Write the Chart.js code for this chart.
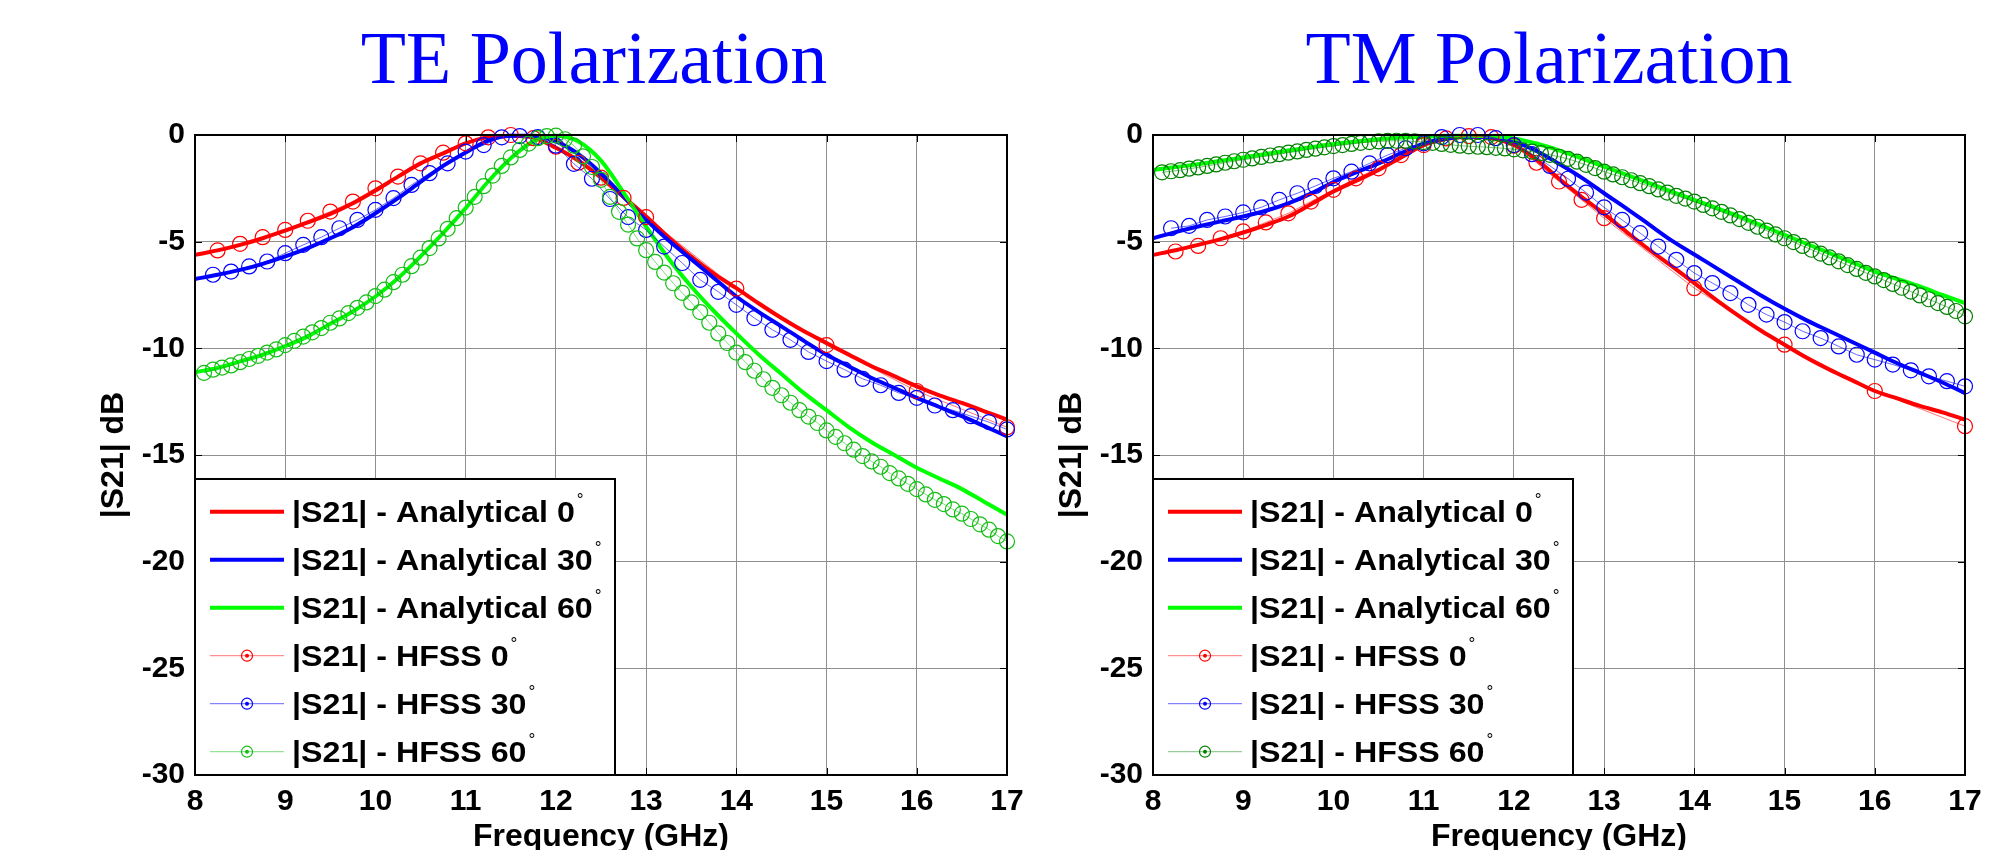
<!DOCTYPE html>
<html>
<head>
<meta charset="utf-8">
<title>|S21| TE / TM Polarization</title>
<script src="https://cdn.jsdelivr.net/npm/chart.js@4.4.1/dist/chart.umd.min.js"></script>
<style>
  html, body { margin: 0; padding: 0; background: #fff; }
  #wrap { position: relative; width: 2002px; height: 850px; overflow: hidden; background: #fff; }
  canvas { position: absolute; top: 0; }
  #te { left: 0; }
  #tm { left: 958px; }
</style>
</head>
<body>
<div id="wrap">
  <canvas id="te" width="1044" height="850"></canvas>
  <canvas id="tm" width="1044" height="850"></canvas>
</div>
<script>
// frequency grids (GHz)
const freqAnalytical = [8, 8.25, 8.5, 8.75, 9, 9.25, 9.5, 9.75, 10, 10.25, 10.5, 10.75, 11, 11.25, 11.5, 11.75,
  12, 12.25, 12.5, 12.75, 13, 13.25, 13.5, 13.75, 14, 14.25, 14.5, 14.75, 15, 15.25, 15.5, 15.75, 16, 16.25, 16.5, 16.75, 17];
const freqHfss0 = [8.25, 8.5, 8.75, 9, 9.25, 9.5, 9.75, 10, 10.25, 10.5, 10.75, 11, 11.25, 11.5, 11.75,
  12, 12.25, 12.5, 12.75, 13, 14, 15, 16, 17];
const freqHfss30 = [8.2, 8.4, 8.6, 8.8, 9, 9.2, 9.4, 9.6, 9.8, 10, 10.2, 10.4, 10.6, 10.8, 11, 11.2, 11.4, 11.6, 11.8,
  12, 12.2, 12.4, 12.6, 12.8, 13, 13.2, 13.4, 13.6, 13.8, 14, 14.2, 14.4, 14.6, 14.8, 15, 15.2, 15.4, 15.6, 15.8,
  16, 16.2, 16.4, 16.6, 16.8, 17];
const freqHfss60 = [8.1, 8.2, 8.3, 8.4, 8.5, 8.6, 8.7, 8.8, 8.9, 9, 9.1, 9.2, 9.3, 9.4, 9.5, 9.6, 9.7, 9.8, 9.9,
  10, 10.1, 10.2, 10.3, 10.4, 10.5, 10.6, 10.7, 10.8, 10.9, 11, 11.1, 11.2, 11.3, 11.4, 11.5, 11.6, 11.7, 11.8, 11.9,
  12, 12.1, 12.2, 12.3, 12.4, 12.5, 12.6, 12.7, 12.8, 12.9, 13, 13.1, 13.2, 13.3, 13.4, 13.5, 13.6, 13.7, 13.8, 13.9,
  14, 14.1, 14.2, 14.3, 14.4, 14.5, 14.6, 14.7, 14.8, 14.9, 15, 15.1, 15.2, 15.3, 15.4, 15.5, 15.6, 15.7, 15.8, 15.9,
  16, 16.1, 16.2, 16.3, 16.4, 16.5, 16.6, 16.7, 16.8, 16.9, 17];

// TE polarization, |S21| in dB
const teAnalytical0 = [-5.62, -5.41, -5.15, -4.84, -4.48, -4.10, -3.70, -3.20, -2.60, -1.95, -1.33, -0.86, -0.39, -0.10, -0.03, -0.12,
  -0.60, -1.20, -2.00, -2.90, -3.82, -4.80, -5.70, -6.50, -7.18, -7.90, -8.58, -9.20, -9.75, -10.30, -10.84, -11.30, -11.78, -12.20, -12.56, -12.95, -13.34];
const teAnalytical30 = [-6.75, -6.55, -6.32, -6.04, -5.69, -5.30, -4.84, -4.32, -3.67, -2.96, -2.20, -1.45, -0.82, -0.26, -0.04, -0.03,
  -0.30, -0.90, -1.80, -2.90, -3.98, -4.95, -5.82, -6.70, -7.57, -8.30, -8.97, -9.65, -10.30, -10.85, -11.39, -11.85, -12.32, -12.75, -13.18, -13.65, -14.12];
const teAnalytical60 = [-11.12, -10.92, -10.61, -10.30, -9.90, -9.44, -8.85, -8.27, -7.57, -6.71, -5.69, -4.60, -3.43, -2.18, -1.09, -0.30,
  -0.03, -0.30, -1.20, -2.70, -4.30, -5.80, -7.10, -8.25, -9.30, -10.30, -11.20, -12.10, -12.90, -13.70, -14.40, -15.00, -15.60, -16.10, -16.60, -17.20, -17.80];
const teHfss0 = [-5.41, -5.10, -4.79, -4.45, -4.02, -3.59, -3.12, -2.50, -1.95, -1.33, -0.83, -0.39, -0.11, 0.00, -0.15,
  -0.55, -1.30, -2.00, -2.95, -3.85, -7.20, -9.85, -12.00, -13.70];
const teHfss30 = [-6.55, -6.40, -6.16, -5.93, -5.54, -5.15, -4.79, -4.37, -3.98, -3.51, -2.96, -2.34, -1.79, -1.33, -0.78, -0.47, -0.11, -0.05, -0.10,
  -0.50, -1.35, -2.05, -3.00, -3.85, -4.45, -5.23, -6.00, -6.79, -7.35, -7.96, -8.58, -9.13, -9.60, -10.17, -10.60, -11.00, -11.43, -11.73, -12.09,
  -12.32, -12.68, -12.90, -13.18, -13.46, -13.80];
const teHfss60 = [-11.15, -11.00, -10.90, -10.80, -10.65, -10.50, -10.35, -10.20, -10.05, -9.85, -9.65, -9.45, -9.25, -9.05, -8.80, -8.60, -8.35, -8.10, -7.85,
  -7.55, -7.25, -6.90, -6.55, -6.15, -5.75, -5.30, -4.85, -4.40, -3.90, -3.40, -2.90, -2.40, -1.90, -1.45, -1.05, -0.70, -0.40, -0.15, -0.05,
  -0.03, -0.20, -0.50, -1.00, -1.50, -2.10, -2.90, -3.60, -4.20, -4.85, -5.40, -5.95, -6.45, -6.95, -7.40, -7.85, -8.30, -8.80, -9.30, -9.75,
  -10.20, -10.65, -11.05, -11.45, -11.85, -12.20, -12.55, -12.90, -13.20, -13.50, -13.85, -14.15, -14.45, -14.75, -15.05, -15.30, -15.55, -15.85, -16.10, -16.35,
  -16.60, -16.85, -17.10, -17.30, -17.55, -17.75, -18.00, -18.25, -18.50, -18.80, -19.05];

// TM polarization, |S21| in dB
const tmAnalytical0 = [-5.62, -5.40, -5.15, -4.88, -4.57, -4.22, -3.82, -3.25, -2.65, -2.15, -1.64, -1.05, -0.47, -0.19, -0.08, -0.15,
  -0.47, -1.15, -2.05, -2.90, -3.70, -4.55, -5.38, -6.15, -6.94, -7.75, -8.50, -9.20, -9.83, -10.45, -11.00, -11.50, -12.00, -12.35, -12.70, -13.00, -13.34];
const tmAnalytical30 = [-4.84, -4.55, -4.29, -4.05, -3.82, -3.55, -3.20, -2.75, -2.20, -1.75, -1.33, -0.85, -0.40, -0.16, -0.08, -0.10,
  -0.31, -0.75, -1.35, -2.00, -2.73, -3.45, -4.20, -4.95, -5.60, -6.25, -6.90, -7.55, -8.15, -8.70, -9.20, -9.70, -10.20, -10.70, -11.15, -11.60, -12.10];
const tmAnalytical60 = [-1.64, -1.50, -1.37, -1.21, -1.05, -0.89, -0.73, -0.57, -0.42, -0.30, -0.20, -0.12, -0.08, -0.04, -0.03, -0.06,
  -0.16, -0.40, -0.72, -1.10, -1.48, -1.87, -2.26, -2.65, -3.04, -3.43, -3.82, -4.25, -4.68, -5.11, -5.54, -5.97, -6.40, -6.75, -7.10, -7.50, -7.88];
const tmHfss0 = [-5.46, -5.20, -4.84, -4.52, -4.10, -3.67, -3.12, -2.57, -2.03, -1.56, -0.94, -0.47, -0.16, -0.05, -0.10,
  -0.50, -1.30, -2.18, -3.04, -3.90, -7.18, -9.83, -12.00, -13.65];
const tmHfss30 = [-4.37, -4.26, -3.98, -3.82, -3.63, -3.39, -3.04, -2.73, -2.39, -2.03, -1.72, -1.33, -0.94, -0.62, -0.39, -0.10, 0.00, 0.00, -0.15,
  -0.47, -0.90, -1.45, -2.05, -2.70, -3.39, -3.98, -4.60, -5.23, -5.85, -6.47, -6.94, -7.41, -7.96, -8.42, -8.77, -9.20, -9.52, -9.91, -10.30,
  -10.53, -10.76, -11.03, -11.31, -11.54, -11.78];
const tmHfss60 = [-1.75, -1.70, -1.65, -1.58, -1.52, -1.45, -1.38, -1.30, -1.23, -1.16, -1.10, -1.03, -0.96, -0.90, -0.83, -0.77, -0.70, -0.64, -0.58,
  -0.52, -0.47, -0.42, -0.37, -0.33, -0.30, -0.28, -0.27, -0.28, -0.30, -0.33, -0.37, -0.42, -0.46, -0.50, -0.53, -0.55, -0.57, -0.60, -0.63,
  -0.67, -0.72, -0.78, -0.85, -0.93, -1.02, -1.12, -1.25, -1.40, -1.55, -1.72, -1.85, -1.98, -2.12, -2.26, -2.40, -2.55, -2.70, -2.85, -2.98,
  -3.12, -3.28, -3.44, -3.60, -3.77, -3.94, -4.12, -4.30, -4.48, -4.66, -4.84, -5.02, -5.20, -5.38, -5.56, -5.74, -5.92, -6.10, -6.28, -6.46,
  -6.63, -6.80, -6.98, -7.16, -7.34, -7.52, -7.70, -7.88, -8.06, -8.25, -8.50];

const xTicks = { min: 8, max: 17, step: 1 };
const yTicks = { min: -30, max: 0, step: 5 };

const SANS = "'Liberation Sans', Arial, sans-serif";

function toPoints(xs, ys) {
  return xs.map((x, i) => ({ x: x, y: ys[i] }));
}

function analytical(label, xs, ys, color, order) {
  return {
    label: label, data: toPoints(xs, ys),
    borderColor: color, backgroundColor: color, borderWidth: 4,
    pointRadius: 0, cubicInterpolationMode: 'monotone', clip: false, order: order
  };
}

function hfss(label, xs, ys, color, lineColor, order) {
  return {
    label: label, data: toPoints(xs, ys),
    borderColor: lineColor, borderWidth: 1, backgroundColor: 'rgba(0,0,0,0)',
    pointRadius: 7.5, pointBorderWidth: 1.2, pointBorderColor: color,
    pointBackgroundColor: 'rgba(0,0,0,0)', clip: false, order: order
  };
}

// box round the plot, legend and panel title
const decorations = {
  id: 'decorations',
  afterDatasetsDraw(chart, args, opts) {
    const { ctx, chartArea: a } = chart;
    ctx.save();
    // small inner ticks on all sides
    ctx.strokeStyle = '#000';
    ctx.lineWidth = 1;
    const xs = chart.scales.x, ys = chart.scales.y;
    xs.ticks.forEach(t => {
      const px = Math.round(xs.getPixelForValue(t.value)) + 0.5;
      ctx.beginPath();
      ctx.moveTo(px, a.top); ctx.lineTo(px, a.top + 7);
      ctx.moveTo(px, a.bottom); ctx.lineTo(px, a.bottom - 7);
      ctx.stroke();
    });
    ys.ticks.forEach(t => {
      const py = Math.round(ys.getPixelForValue(t.value)) + 0.5;
      ctx.beginPath();
      ctx.moveTo(a.left, py); ctx.lineTo(a.left + 7, py);
      ctx.moveTo(a.right, py); ctx.lineTo(a.right - 7, py);
      ctx.stroke();
    });
    ctx.lineWidth = 2;
    ctx.strokeRect(a.left, a.top, a.right - a.left, a.bottom - a.top);

    // legend
    const left = a.left, top = a.top + 344, w = 420, h = a.bottom - top;
    ctx.fillStyle = '#fff';
    ctx.fillRect(left, top, w, h);
    ctx.strokeStyle = '#000';
    ctx.lineWidth = 2;
    ctx.strokeRect(left, top, w, h);
    chart.data.datasets.forEach((ds, i) => {
      const cy = top + 32.7 + 48 * i;
      ctx.beginPath();
      ctx.strokeStyle = ds.borderColor;
      ctx.lineWidth = ds.borderWidth;
      ctx.moveTo(left + 15, cy); ctx.lineTo(left + 89, cy);
      ctx.stroke();
      if (ds.pointRadius > 0) {
        ctx.beginPath();
        ctx.strokeStyle = ds.pointBorderColor;
        ctx.lineWidth = 1.2;
        ctx.arc(left + 52, cy, 5.5, 0, Math.PI * 2);
        ctx.stroke();
        ctx.beginPath();
        ctx.fillStyle = ds.pointBorderColor;
        ctx.arc(left + 52, cy, 2, 0, Math.PI * 2);
        ctx.fill();
      }
      const text = ds.label.replace('°', '');
      ctx.fillStyle = '#000';
      ctx.font = 'bold 29px ' + SANS;
      ctx.textBaseline = 'alphabetic';
      ctx.textAlign = 'left';
      ctx.save();
      ctx.translate(left + 97, cy + 10);
      ctx.scale(1.11, 1);
      ctx.fillText(text, 0, 0);
      const tw = ctx.measureText(text).width * 1.11;
      ctx.restore();
      ctx.font = '17px ' + SANS;
      ctx.fillText('°', left + 97 + tw + 2, cy - 7);
    });
    ctx.restore();
  },
  afterDraw(chart, args, opts) {
    const { ctx } = chart;
    ctx.save();
    ctx.fillStyle = '#0000ff';
    ctx.font = "74px 'Liberation Serif', 'Times New Roman', serif";
    ctx.textAlign = 'center';
    ctx.textBaseline = 'alphabetic';
    ctx.fillText(opts.text, opts.x, 83);
    ctx.restore();
  }
};

function makeChart(id, title, titleX, datasets) {
  return new Chart(document.getElementById(id), {
    type: 'line',
    data: { datasets: datasets },
    plugins: [decorations],
    options: {
      responsive: false,
      animation: false,
      events: [],
      devicePixelRatio: 1,
      layout: { padding: { left: 0, right: 37, top: 135, bottom: 0 } },
      plugins: {
        legend: { display: false },
        tooltip: { enabled: false },
        decorations: { text: title, x: titleX }
      },
      scales: {
        x: {
          type: 'linear', min: xTicks.min, max: xTicks.max,
          grid: { color: '#8f8f8f', lineWidth: 1, drawTicks: false },
          border: { display: false },
          ticks: { stepSize: xTicks.step, padding: 12, color: '#000', font: { family: SANS, size: 30, weight: 'bold', lineHeight: 1 } },
          title: { display: true, text: 'Frequency (GHz)', color: '#000', padding: { top: 0, bottom: -3 },
            font: { family: SANS, size: 32, weight: 'bold', lineHeight: 1 } },
          afterFit(scale) { scale.height = 75; }
        },
        y: {
          min: yTicks.min, max: yTicks.max,
          grid: { color: '#8f8f8f', lineWidth: 1, drawTicks: false },
          border: { display: false },
          ticks: { stepSize: yTicks.step, padding: 10, color: '#000', font: { family: SANS, size: 30, weight: 'bold', lineHeight: 1 } },
          title: { display: true, text: '|S21| dB', color: '#000', padding: { top: 98, bottom: 0 },
            font: { family: SANS, size: 32, weight: 'bold', lineHeight: 1 } },
          afterFit(scale) { scale.width = 195; }
        }
      }
    }
  });
}

makeChart('te', 'TE Polarization', 594, [
  analytical('|S21| - Analytical 0°', freqAnalytical, teAnalytical0, '#ff0000', 6),
  analytical('|S21| - Analytical 30°', freqAnalytical, teAnalytical30, '#0000ff', 5),
  analytical('|S21| - Analytical 60°', freqAnalytical, teAnalytical60, '#00ff00', 4),
  hfss('|S21| - HFSS 0°', freqHfss0, teHfss0, '#ff0000', 'rgba(255,0,0,0.55)', 3),
  hfss('|S21| - HFSS 30°', freqHfss30, teHfss30, '#0000ff', 'rgba(0,0,255,0.6)', 2),
  hfss('|S21| - HFSS 60°', freqHfss60, teHfss60, '#14be14', 'rgba(20,190,20,0.55)', 1)
]);

makeChart('tm', 'TM Polarization', 591, [
  analytical('|S21| - Analytical 0°', freqAnalytical, tmAnalytical0, '#ff0000', 6),
  analytical('|S21| - Analytical 30°', freqAnalytical, tmAnalytical30, '#0000ff', 5),
  analytical('|S21| - Analytical 60°', freqAnalytical, tmAnalytical60, '#00ff00', 4),
  hfss('|S21| - HFSS 0°', freqHfss0, tmHfss0, '#ff0000', 'rgba(255,0,0,0.55)', 3),
  hfss('|S21| - HFSS 30°', freqHfss30, tmHfss30, '#0000ff', 'rgba(0,0,255,0.6)', 2),
  hfss('|S21| - HFSS 60°', freqHfss60, tmHfss60, '#008000', 'rgba(0,128,0,0.5)', 1)
]);
</script>
</body>
</html>
